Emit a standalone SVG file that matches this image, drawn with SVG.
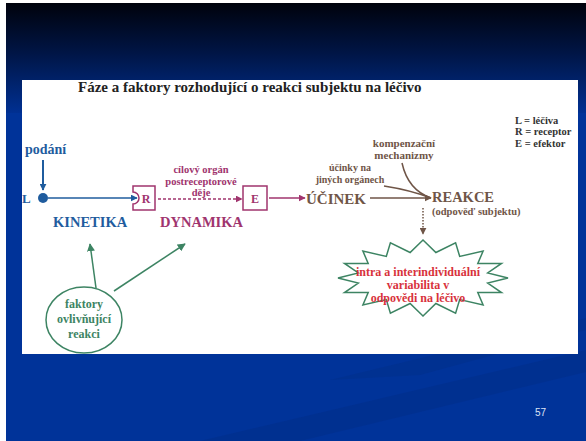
<svg xmlns="http://www.w3.org/2000/svg" width="586" height="441" viewBox="0 0 586 441">
<defs>
<linearGradient id="bg" x1="0" y1="0" x2="0" y2="1" gradientUnits="objectBoundingBox">
<stop offset="0" stop-color="#00020c"/>
<stop offset="0.45" stop-color="#001545"/>
<stop offset="1" stop-color="#003092"/>
</linearGradient>
<marker id="ab" viewBox="0 0 10 10" refX="9" refY="5" markerWidth="7" markerHeight="7" orient="auto" markerUnits="userSpaceOnUse"><path d="M0,0 L10,5 L0,10 Z" fill="#1f5c9e"/></marker>
<marker id="ap" viewBox="0 0 10 10" refX="9" refY="5" markerWidth="7" markerHeight="7" orient="auto" markerUnits="userSpaceOnUse"><path d="M0,0 L10,5 L0,10 Z" fill="#a0346e"/></marker>
<marker id="abr" viewBox="0 0 10 10" refX="9" refY="5" markerWidth="7" markerHeight="7" orient="auto" markerUnits="userSpaceOnUse"><path d="M0,0 L10,5 L0,10 Z" fill="#6f5547"/></marker>
<marker id="ag" viewBox="0 0 10 10" refX="9" refY="5" markerWidth="8" markerHeight="8" orient="auto" markerUnits="userSpaceOnUse"><path d="M0,0 L10,5 L0,10 Z" fill="#3d8463"/></marker>
<style>
text{font-family:"Liberation Serif","Times New Roman",serif;font-weight:bold}
.blue{fill:#1f5c9e}
.pur{fill:#a0346e}
.brn{fill:#6f5547}
.grn{fill:#3d8463}
.red{fill:#d8323c}
.leg{fill:#333;font-size:10.5px}
.c{text-anchor:middle}
</style>
</defs>
<rect width="586" height="441" fill="#ffffff"/>
<rect x="6" y="3" width="580" height="438" fill="#003399"/>
<rect x="6" y="3" width="580" height="110" fill="url(#bg)"/>
<polygon points="200,441 586,350 586,372 300,441" fill="#002f8a" opacity="0.6"/>
<polygon points="330,380 586,318 586,330 420,375" fill="#002f8a" opacity="0.5"/>
<rect x="22" y="80" width="556" height="274" fill="#ffffff"/>
<text x="78" y="92" font-size="15" fill="#222">Fáze a faktory rozhodující o reakci subjektu na léčivo</text>
<g id="legend">
<text class="leg" x="515" y="124">L = léčiva</text>
<text class="leg" x="515" y="135">R = receptor</text>
<text class="leg" x="515" y="147">E = efektor</text>
</g>
<g id="connectors" fill="none">
<line x1="43" y1="160" x2="43" y2="190" stroke="#1f5c9e" stroke-width="2" marker-end="url(#ab)"/>
<line x1="48" y1="198" x2="137" y2="198" stroke="#1f5c9e" stroke-width="1.5" marker-end="url(#ab)"/>
<line x1="158" y1="199" x2="242" y2="199" stroke="#a0346e" stroke-width="1.5" stroke-dasharray="3,2" marker-end="url(#ap)"/>
<line x1="269" y1="198" x2="305" y2="198" stroke="#a0346e" stroke-width="1.5" marker-end="url(#ap)"/>
<line x1="370" y1="198" x2="431" y2="198" stroke="#6f5547" stroke-width="1.5" marker-end="url(#abr)"/>
<path d="M402,163 Q408,190 431,198" stroke="#6f5547" stroke-width="1.5"/>
<path d="M384,186 Q410,190 431,198" stroke="#6f5547" stroke-width="1.5"/>
<line x1="423" y1="208" x2="423" y2="234" stroke="#6f5547" stroke-width="1.5" stroke-dasharray="1.5,1.5" marker-end="url(#abr)"/>
<line x1="96" y1="288" x2="90" y2="244" stroke="#3d8463" stroke-width="1.5" marker-end="url(#ag)"/>
<line x1="114" y1="291" x2="185" y2="244" stroke="#3d8463" stroke-width="1.5" marker-end="url(#ag)"/>
</g>
<g id="podani"><text class="blue" x="25" y="154" font-size="14">podání</text></g>
<g id="L">
<text class="blue" x="22" y="203" font-size="13">L</text>
<circle cx="43" cy="198" r="5" fill="#1f5c9e"/>
</g>
<g id="R">
<path d="M133,186 H155 V210 H133 V204 A6,6 0 0 0 133,192 Z" fill="none" stroke="#a0346e" stroke-width="1.5"/>
<text class="pur c" x="146" y="203" font-size="12">R</text>
</g>
<g id="postreceptor">
<text class="pur c" x="201" y="173" font-size="10.5">cílový orgán</text>
<text class="pur c" x="201" y="184.5" font-size="10.5">postreceptorové</text>
<text class="pur c" x="201" y="196" font-size="10.5">děje</text>
</g>
<g id="E">
<rect x="243" y="186" width="24" height="24" fill="none" stroke="#a0346e" stroke-width="1.5"/>
<text class="pur c" x="255" y="203" font-size="12">E</text>
</g>
<g id="kinetika"><text class="blue" x="53" y="227" font-size="14.5">KINETIKA</text></g>
<g id="dynamika"><text class="pur" x="160" y="227" font-size="14.5">DYNAMIKA</text></g>
<g id="ucinek"><text class="brn" x="306" y="204" font-size="15">ÚČINEK</text></g>
<g id="kompenzacni">
<text class="brn c" x="404" y="147" font-size="11">kompenzační</text>
<text class="brn c" x="404" y="159" font-size="11">mechanizmy</text>
</g>
<g id="ucinky">
<text class="brn c" x="350" y="171" font-size="10">účinky na</text>
<text class="brn c" x="350" y="183" font-size="10">jiných orgánech</text>
</g>
<g id="reakce">
<text class="brn" x="432" y="202" font-size="14.5">REAKCE</text>
<text class="brn" x="432" y="215" font-size="10.5">(odpověď subjektu)</text>
</g>
<g id="variabilita">
<polygon points="508,278 487.7,283.1 501.5,292.6 477.8,292.5 483.1,304.9 459.7,299.6 455.6,313.1 435.9,303.5 423,316 410.1,303.5 390.4,313.1 386.3,299.6 362.9,304.9 368.2,292.5 344.5,292.6 358.3,283.1 338,278 358.3,272.9 344.5,263.4 368.2,263.5 362.9,251.1 386.3,256.4 390.4,242.9 410.1,252.5 423,240 435.9,252.5 455.6,242.9 459.7,256.4 483.1,251.1 477.8,263.5 501.5,263.4 487.7,272.9" fill="#ffffff" stroke="#3d8463" stroke-width="1.5"/>
<text class="red c" x="418" y="276" font-size="12">intra a interindividuální</text>
<text class="red c" x="418" y="289" font-size="12">variabilita v</text>
<text class="red c" x="418" y="302" font-size="12">odpovědi na léčivo</text>
</g>
<g id="faktory">
<ellipse cx="84" cy="320" rx="38" ry="33" fill="none" stroke="#3d8463" stroke-width="1.5"/>
<text class="grn c" x="84" y="308" font-size="12">faktory</text>
<text class="grn c" x="84" y="323" font-size="12">ovlivňující</text>
<text class="grn c" x="84" y="338" font-size="12">reakci</text>
</g>
<text x="535" y="416" font-size="10" fill="#dde4f5" style="font-family:'Liberation Sans',Arial,sans-serif;font-weight:normal">57</text>
</svg>
